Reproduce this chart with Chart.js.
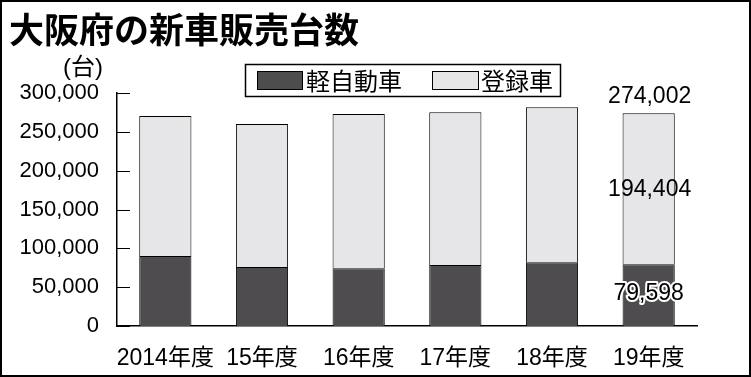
<!DOCTYPE html>
<html>
<head>
<meta charset="utf-8">
<script src="https://cdn.jsdelivr.net/npm/chart.js@4"></script>
<style>
  body { margin: 0; background: #fff; }
  #wrap { width: 751px; height: 377px; }
</style>
</head>
<body>
<div id="wrap"><canvas id="salesChart" width="751" height="377"></canvas></div>
<script>
// 大阪府の新車販売台数 (19年度 exact)
const years = ["2014年度", "15年度", "16年度", "17年度", "18年度", "19年度"];
const keiCars = [90200, 76000, 74300, 78600, 82100, 79598];
const registeredCars = [180300, 184200, 198800, 196700, 199600, 194404];
const seriesNames = ["軽自動車", "登録車"];
const labelledIndex = 5; // only the last bar carries numbers

const numFont = '"Liberation Sans", sans-serif';
const jpFont = '"Liberation Sans", "Noto Sans CJK JP", sans-serif';
const darkGray = "#4f4c4f";
const lightGray = "#e6e6e8";

function fmt(n) {
    return n.toLocaleString("en-US");
}

// frame, title, unit, legend box, inner ticks and the numbers on the last bar
const decorations = {
    id: "decorations",
    beforeDraw(chart) {
        const ctx = chart.ctx;
        ctx.save();
        ctx.fillStyle = "#fff";
        ctx.fillRect(0, 0, chart.width, chart.height);
        ctx.restore();
    },
    afterDatasetsDraw(chart) {
        const ctx = chart.ctx;
        const yScale = chart.scales.y;
        const area = chart.chartArea;
        ctx.save();

        // inward tick marks on the y axis
        ctx.strokeStyle = "#000";
        ctx.lineWidth = 1;
        yScale.ticks.forEach(t => {
            const y = Math.round(yScale.getPixelForValue(t.value)) + 0.5;
            ctx.beginPath();
            ctx.moveTo(area.left, y);
            ctx.lineTo(area.left + 13, y);
            ctx.stroke();
        });

        // numbers on the last bar
        const keiBar = chart.getDatasetMeta(0).data[labelledIndex];
        const regBar = chart.getDatasetMeta(1).data[labelledIndex];
        const total = keiCars[labelledIndex] + registeredCars[labelledIndex];
        ctx.font = "23px " + numFont;
        ctx.textAlign = "center";
        ctx.textBaseline = "middle";
        ctx.fillStyle = "#000";
        ctx.fillText(fmt(total), regBar.x + 1, regBar.y - 17);
        ctx.fillText(fmt(registeredCars[labelledIndex]), regBar.x + 1, (regBar.y + regBar.base) / 2 + 1);
        const midKei = (keiBar.y + keiBar.base) / 2 - 1;
        ctx.lineWidth = 4;
        ctx.strokeStyle = "#fff";
        ctx.lineJoin = "round";
        ctx.strokeText(fmt(keiCars[labelledIndex]), keiBar.x, midKei);
        ctx.fillText(fmt(keiCars[labelledIndex]), keiBar.x, midKei);

        ctx.restore();
    },
    afterDraw(chart) {
        const ctx = chart.ctx;
        ctx.save();

        // outer frame
        ctx.strokeStyle = "#000";
        ctx.lineWidth = 2;
        ctx.strokeRect(1, 1, chart.width - 2, chart.height - 2);

        // title
        ctx.fillStyle = "#000";
        ctx.font = "bold 35px 'Noto Sans CJK JP'";
        ctx.textBaseline = "middle";
        ctx.textAlign = "left";
        ctx.fillText("大阪府の新車販売台数", 9, 30);

        // unit
        ctx.font = "24px " + jpFont;
        ctx.textAlign = "center";
        ctx.fillText("(台)", 83, 68);

        // legend
        ctx.lineWidth = 1.5;
        ctx.strokeRect(245.5, 64.5, 315, 32);
        ctx.fillStyle = darkGray;
        ctx.fillRect(257, 71, 45, 18);
        ctx.strokeStyle = "#000";
        ctx.lineWidth = 1;
        ctx.strokeRect(257.5, 71.5, 45, 18);
        ctx.fillStyle = lightGray;
        ctx.fillRect(432, 71, 46, 18);
        ctx.strokeRect(432.5, 71.5, 46, 18);
        ctx.fillStyle = "#000";
        ctx.font = "24px 'Noto Sans CJK JP'";
        ctx.textAlign = "left";
        ctx.fillText(seriesNames[0], 306, 81);
        ctx.fillText(seriesNames[1], 481, 81);

        ctx.restore();
    }
};

const ctx = document.getElementById("salesChart").getContext("2d");
new Chart(ctx, {
    type: "bar",
    data: {
        labels: years,
        datasets: [
            {
                label: seriesNames[0],
                data: keiCars,
                backgroundColor: darkGray,
                borderColor: "#000",
                borderWidth: 1,
                borderSkipped: "start"
            },
            {
                label: seriesNames[1],
                data: registeredCars,
                backgroundColor: lightGray,
                borderColor: "#000",
                borderWidth: 1,
                borderSkipped: "start"
            }
        ]
    },
    options: {
        responsive: false,
        animation: false,
        layout: { padding: { top: 93, right: 54, left: 0, bottom: 0 } },
        plugins: {
            legend: { display: false },
            title: { display: false },
            tooltip: { enabled: false }
        },
        datasets: {
            bar: { categoryPercentage: 1, barPercentage: 0.54 }
        },
        scales: {
            x: {
                stacked: true,
                grid: { display: false },
                border: { display: true, color: "#000", width: 1.5 },
                afterFit(scale) { scale.height = 51; },
                ticks: {
                    color: "#000",
                    padding: 11,
                    autoSkip: false,
                    maxRotation: 0,
                    minRotation: 0,
                    font: { family: jpFont, size: 23 }
                }
            },
            y: {
                stacked: true,
                min: 0,
                max: 300000,
                grid: { display: false },
                border: { display: true, color: "#000", width: 1.5 },
                afterFit(scale) { scale.width = 117; },
                ticks: {
                    stepSize: 50000,
                    color: "#000",
                    padding: 10,
                    font: { family: numFont, size: 22 },
                    callback: v => fmt(v)
                }
            }
        }
    },
    plugins: [decorations]
});
</script>
</body>
</html>
